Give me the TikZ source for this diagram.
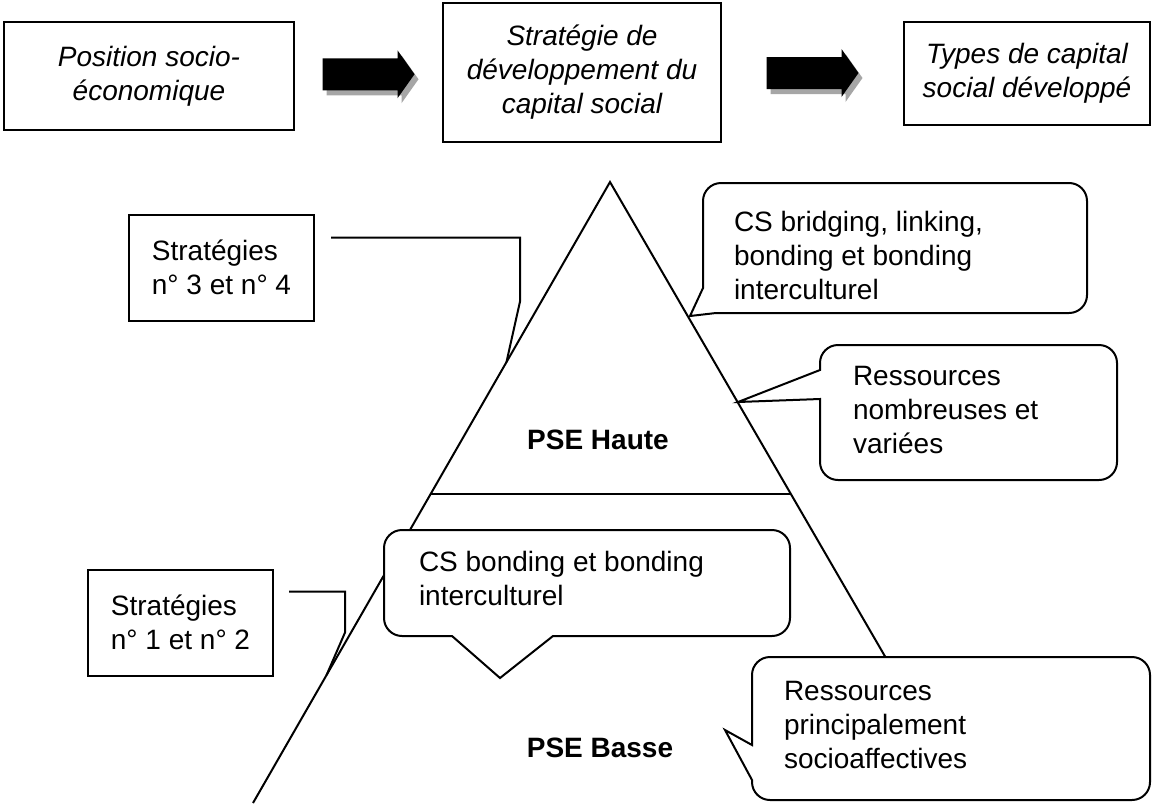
\documentclass[tikz,border=0pt]{standalone}
\usepackage{fontspec}
\setmainfont{Liberation Sans}
\usetikzlibrary{positioning,calc}
\definecolor{ArrowShade}{HTML}{A6A6A6}
\tikzset{every node/.style={font=\fontsize{14}{17}\selectfont},
 topbox/.style={draw,align=center,inner sep=0pt,font=\fontsize{14}{17}\selectfont\itshape},
 sbox/.style={draw,align=left,inner sep=0pt,minimum width=92.5pt,minimum height=53pt},
 bubble/.style={draw,fill=white},
 ctext/.style={anchor=west,align=left,inner sep=0pt},
 level/.style={font=\fontsize{14}{17}\selectfont\bfseries}}

\begin{document}
\begin{tikzpicture}[x=0.5pt,y=-0.5pt,line width=1pt]
\useasboundingbox (0,0) rectangle (1154,803);
% top row
\node[topbox,minimum width=145pt,minimum height=54pt] (pos) at (149,76) {Position socio-\\économique};
\node[topbox,minimum width=139pt,minimum height=69.5pt] (strat) at (582,72.5) {Stratégie de\\développement du\\capital social};
\node[topbox,minimum width=123pt,minimum height=51.5pt] (types) at (1027,73.5) {Types de capital\\social développé};
\foreach \a/\b in {pos/strat,strat/types}{
 \path (\a.east) -- (\b.west) coordinate[midway] (mid-\a);
 \fill[ArrowShade] (mid-\a) ++(-21pt,5.5pt) -- ++(37.5pt,0) -- ++(0,4pt) -- ++(8.5pt,-12pt)
  -- ++(-8.5pt,-12pt) -- ++(0,4pt) -- ++(-37.5pt,0) -- cycle;
 \fill (mid-\a) ++(-23pt,8pt) -- ++(37.5pt,0) -- ++(0,4pt) -- ++(8.5pt,-12pt)
  -- ++(-8.5pt,-12pt) -- ++(0,4pt) -- ++(-37.5pt,0) -- cycle;
}
% pyramid
\coordinate (apex) at (610,182);
\coordinate (bl) at (253,803);
\coordinate (br) at (970,803);
\draw (bl) -- (apex) -- ($(apex)!.78!(br)$);
\draw ($(apex)!.5024!(bl)$) -- ($(apex)!.5024!(br)$);
\node[level] (haute) at (598,440) {PSE Haute};
\node[level] (basse) at (600,748) {PSE Basse};
% callouts
\draw[bubble] (895,183) [rounded corners=9pt] -- (703,183) [sharp corners] -- (703,288) -- (690,316)
 -- (716,313) [rounded corners=9pt] -- (1087,313) -- (1087,183) -- cycle;
\node[ctext] (cs-haut) at (733,255) {CS bridging, linking,\\bonding et bonding\\interculturel};
\draw[bubble] (970,345) [rounded corners=9pt] -- (820,345) [sharp corners] -- (820,370) -- (738,402)
 -- (820,399) [rounded corners=9pt] -- (820,480) -- (1117,480) -- (1117,345) -- cycle;
\node[ctext] (res-haut) at (852,410) {Ressources\\nombreuses et\\variées};
\draw[bubble] (600,530) [rounded corners=9pt] -- (384,530) -- (384,636) [sharp corners] -- (452,636)
 -- (500,678) -- (553,636) [rounded corners=9pt] -- (790,636) -- (790,530) -- cycle;
\node[ctext] (cs-bas) at (418,578) {CS bonding et bonding\\interculturel};
\draw[bubble] (950,657) [rounded corners=9pt] -- (752,657) [sharp corners] -- (752,745) -- (725,730)
 -- (752,780) [rounded corners=9pt] -- (752,800) -- (1150,800) -- (1150,657) -- cycle;
\node[ctext] (res-bas) at (783,725) {Ressources\\principalement\\socioaffectives};
% strategies
\node[sbox] (s34) at (221.5,267.5) {Stratégies\\n° 3 et n° 4};
\node[sbox] (s12) at (180.5,622.5) {Stratégies\\n° 1 et n° 2};
\draw ($(s34.north east)+(8pt,-12pt)$) -- ++(94.5pt,0) -- ++(0,-32pt) -- ($(apex)!.29!(bl)$);
\draw ($(s12.north east)+(7.5pt,-11.5pt)$) -- ++(28pt,0) -- ++(0,-20.5pt) -- ($(apex)!.794!(bl)$);
\end{tikzpicture}
\end{document}
